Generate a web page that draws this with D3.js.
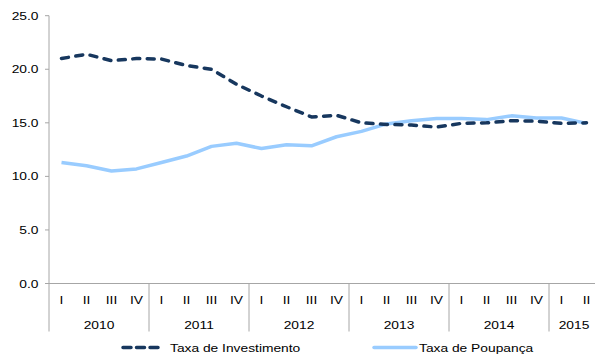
<!DOCTYPE html>
<html>
<head>
<meta charset="utf-8">
<script src="https://cdn.jsdelivr.net/npm/d3@7"></script>
<style>
  html, body { margin: 0; padding: 0; background: #fff; }
  svg { display: block; }
  text { font-family: "Liberation Sans", Arial, sans-serif; fill: #000; font-size: 11.5px; }
</style>
</head>
<body>
<svg id="chart" width="595" height="356"></svg>
<script>
// Quarterly series, 2010 Q1 – 2015 Q2
const years = ["2010", "2011", "2012", "2013", "2014", "2015"];
const quartersPerYear = [4, 4, 4, 4, 4, 2];
const quarterNames = ["I", "II", "III", "IV"];
const yTicks = [0, 5, 10, 15, 20, 25];

const taxaInvestimento = [
  21.0, 21.4, 20.8, 21.0,
  20.95, 20.35, 20.0, 18.6,
  17.5, 16.5, 15.55, 15.7,
  15.0, 14.85, 14.8, 14.6,
  14.95, 15.0, 15.2, 15.15,
  14.95, 15.0
];
const taxaPoupanca = [
  11.3, 11.0, 10.5, 10.7,
  11.3, 11.9, 12.8, 13.1,
  12.6, 12.95, 12.85, 13.7,
  14.2, 14.9, 15.2, 15.4,
  15.4, 15.3, 15.65, 15.45,
  15.45, 14.95
];

// Build the flat list of periods
const periods = [];
years.forEach((yr, yi) => {
  for (let q = 0; q < quartersPerYear[yi]; q++) {
    periods.push({ year: yr, q: quarterNames[q] });
  }
});

const svg = d3.select("#chart");
const plotLeft = 49, plotRight = 599, plotTop = 15.7, plotBottom = 283.5;
const axisColor = "#a6a6a6";
const stretch = 1.2; // labels are set slightly wide

const x = d3.scaleBand()
  .domain(d3.range(periods.length))
  .range([plotLeft, plotRight])
  .padding(0);
const y = d3.scaleLinear().domain([0, 25]).range([plotBottom, plotTop]);
const cx = i => x(i) + x.bandwidth() / 2;

// Places a text at (px, py) with horizontal stretch
function place(sel, px, py) {
  sel.attr("x", 0).attr("y", 0)
    .attr("transform", (d, i) => {
      const xx = typeof px === "function" ? px(d, i) : px;
      const yy = typeof py === "function" ? py(d, i) : py;
      return `translate(${xx},${yy}) scale(${stretch},1)`;
    });
  return sel;
}

// Y axis
const gy = svg.append("g");
gy.selectAll("line.tick")
  .data(yTicks)
  .join("line")
  .attr("class", "tick")
  .attr("x1", plotLeft - 4).attr("x2", plotLeft)
  .attr("y1", d => y(d)).attr("y2", d => y(d))
  .attr("stroke", axisColor);
gy.selectAll("text")
  .data(yTicks)
  .join("text")
  .attr("text-anchor", "end")
  .attr("dy", "0.35em")
  .text(d => d3.format(".1f")(d))
  .call(place, 38.5, d => y(d));
svg.append("line")
  .attr("x1", plotLeft).attr("x2", plotLeft)
  .attr("y1", plotTop).attr("y2", 331.5)
  .attr("stroke", axisColor);

// X axis baseline
svg.append("line")
  .attr("x1", plotLeft - 4).attr("x2", plotRight)
  .attr("y1", plotBottom).attr("y2", plotBottom)
  .attr("stroke", axisColor);

// Quarter labels
svg.append("g").selectAll("text")
  .data(periods)
  .join("text")
  .attr("text-anchor", "middle")
  .text(d => d.q)
  .call(place, (d, i) => cx(i), 304);

// Year groups: separators and labels
let start = 0;
const yearGroups = years.map((yr, yi) => {
  const g = { year: yr, first: start, last: start + quartersPerYear[yi] - 1 };
  start += quartersPerYear[yi];
  return g;
});
svg.append("g").selectAll("line")
  .data(yearGroups.slice(1))
  .join("line")
  .attr("x1", d => x(d.first)).attr("x2", d => x(d.first))
  .attr("y1", plotBottom).attr("y2", 331.5)
  .attr("stroke", axisColor);
svg.append("g").selectAll("text")
  .data(yearGroups)
  .join("text")
  .attr("text-anchor", "middle")
  .text(d => d.year)
  .call(place, d => (x(d.first) + x(d.last) + x.bandwidth()) / 2, 329);

// Lines
const line = d3.line()
  .x((d, i) => cx(i))
  .y(d => y(d));

svg.append("path")
  .datum(taxaPoupanca)
  .attr("d", line)
  .attr("fill", "none")
  .attr("stroke", "#99ccff")
  .attr("stroke-width", 3.5)
  .attr("stroke-linejoin", "round");

svg.append("path")
  .datum(taxaInvestimento)
  .attr("d", line)
  .attr("fill", "none")
  .attr("stroke", "#17375e")
  .attr("stroke-width", 3.5)
  .attr("stroke-dasharray", "7,7.5")
  .attr("stroke-linecap", "round")
  .attr("stroke-linejoin", "round");

// Legend
const legend = svg.append("g");
legend.append("line")
  .attr("x1", 123).attr("x2", 162)
  .attr("y1", 347.5).attr("y2", 347.5)
  .attr("stroke", "#17375e")
  .attr("stroke-width", 3.5)
  .attr("stroke-dasharray", "8,5.5")
  .attr("stroke-linecap", "round");
legend.append("text")
  .text("Taxa de Investimento")
  .call(place, 170, 351.5);
legend.append("line")
  .attr("x1", 374).attr("x2", 416)
  .attr("y1", 347.5).attr("y2", 347.5)
  .attr("stroke", "#99ccff")
  .attr("stroke-width", 3.5)
  .attr("stroke-linecap", "round");
legend.append("text")
  .text("Taxa de Poupança")
  .call(place, 419, 351.5);
</script>
</body>
</html>
